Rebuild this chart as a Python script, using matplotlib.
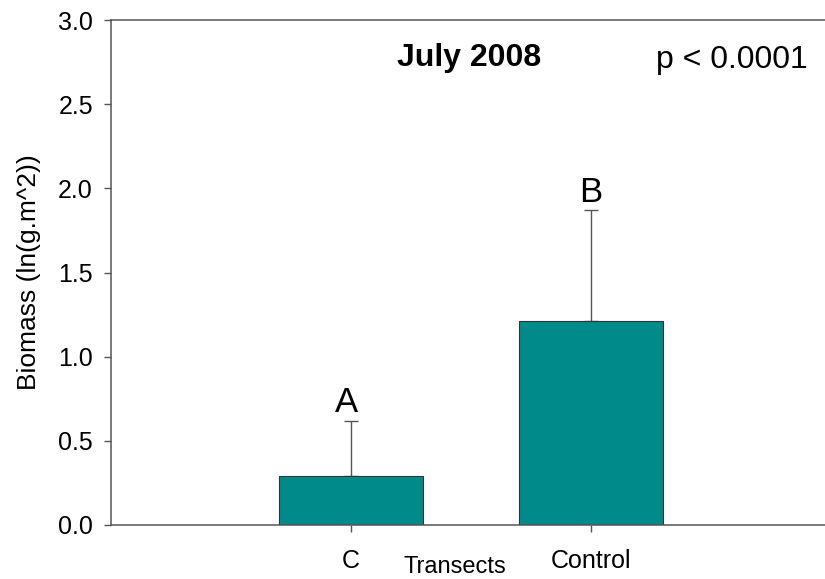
import matplotlib
matplotlib.use("Agg")
import matplotlib.pyplot as plt

plt.rcParams['font.family'] = ['Liberation Sans', 'DejaVu Sans']

# biomass per transect, July 2008
transects = ['C', 'Control']
biomass = [0.29, 1.21]
err_up = [0.33, 0.66]
groups = ['A', 'B']

fig = plt.figure(figsize=(8.25, 5.79), dpi=100)
ax = fig.add_axes([0.1345, 0.0933, 0.8655, 0.872])

xpos = list(range(len(transects)))
ax.bar(xpos, biomass, width=0.6, color='#008b8b', edgecolor='#333333', linewidth=0.8, zorder=2)
ax.errorbar(xpos, biomass, yerr=[[0] * len(biomass), err_up], fmt='none',
            ecolor='#555555', elinewidth=1.0, capsize=5, capthick=1.0, zorder=1)

for x, h, e, g in zip(xpos, biomass, err_up, groups):
    ax.text(x - 0.02 if x == 0 else x, h + e + 0.01, g, ha='center', va='bottom', fontsize=25)

ax.set_xlim(-1, 1.975)
ax.set_ylim(0, 3.0)
ax.set_yticks([0, 0.5, 1.0, 1.5, 2.0, 2.5, 3.0])
ax.set_yticklabels(['0.0', '0.5', '1.0', '1.5', '2.0', '2.5', '3.0'])
ax.set_xticks(xpos)
ax.set_xticklabels(transects)

for s in ['left', 'top', 'bottom']:
    ax.spines[s].set_color('#555555')
    ax.spines[s].set_linewidth(1.1)
ax.spines['right'].set_visible(False)
ax.tick_params(axis='both', direction='out', length=5, width=1.0, color='#555555',
               labelsize=18, pad=8)
ax.tick_params(axis='x', pad=12)

ax.set_ylabel('Biomass (ln(g.m^2))', fontsize=19, labelpad=12)
fig.text(455 / 825, 1 - 567 / 579, 'Transects', ha='center', va='center', fontsize=17)

fig.text(469 / 825, 1 - 58 / 579, 'July 2008', ha='center', va='center',
         fontsize=23, fontweight='bold')
fig.text(808 / 825, 1 - 60 / 579, 'p < 0.0001', ha='right', va='center', fontsize=23)

fig.savefig('out.png', dpi=100)
